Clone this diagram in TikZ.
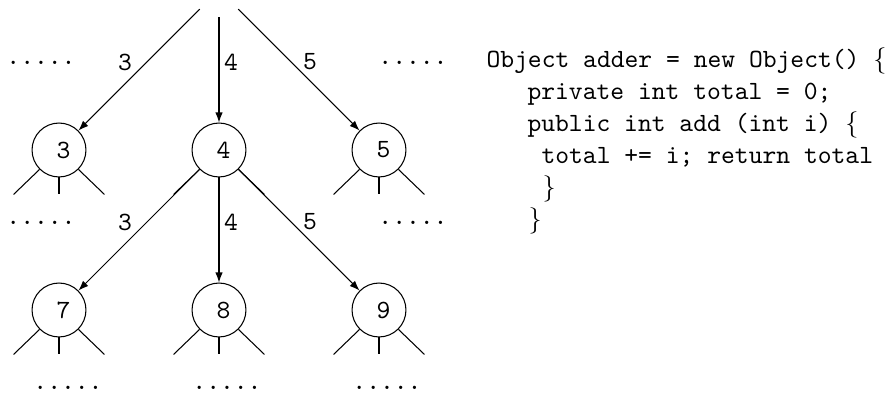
\documentclass[tikz,border=0pt]{standalone}
\usetikzlibrary{arrows.meta}
\tikzset{
  knot/.style={circle, draw, minimum size=20.5pt, inner sep=0pt, font=\ttfamily,
    execute at begin node=\hspace*{3.5pt}},
  lbl/.style={inner sep=0pt, font=\ttfamily},
  code/.style={inner sep=0pt, anchor=base west, font=\ttfamily},
}
\begin{document}
\begin{tikzpicture}[x=0.38pt, y=-0.38pt, >={Latex[length=3.8pt,width=2.8pt]}, line join=round]
  \useasboundingbox (0,0) rectangle (892,394);
  \coordinate (root) at (219,-10);
  % Knoten
  \node[knot] (n3) at (59,150) {3};
  \node[knot] (n4) at (219,150) {4};
  \node[knot] (n5) at (379,150) {5};
  \node[knot] (n7) at (59,310) {7};
  \node[knot] (n8) at (219,310) {8};
  \node[knot] (n9) at (379,310) {9};
  % Kanten
  \foreach \n in {3,4,5} \draw[->, shorten <=10.3pt] (root) -- (n\n);
  \foreach \n in {7,8,9} \draw[->] (n4) -- (n\n);
  \foreach \n in {3,4,5,7,8,9} {
    \draw (n\n.south west) -- ++(-26,25);
    \draw (n\n.south) -- ++(0,17);
    \draw (n\n.south east) -- ++(26,25);
  }
  % Beschriftungen
  \node[lbl] (e3) at (125,62) {3};
  \node[lbl] (e4) at (231,62) {4};
  \node[lbl] (e5) at (310,62) {5};
  \node[lbl] (f3) at (125,222) {3};
  \node[lbl] (f4) at (231,222) {4};
  \node[lbl] (f5) at (310,222) {5};
  \node[lbl] (d1) at (41,63) {.....};
  \node[lbl] (d2) at (413,63) {.....};
  \node[lbl] (d3) at (41,223) {.....};
  \node[lbl] (d4) at (413,223) {.....};
  \node[lbl] (b7) at (68,388) {.....};
  \node[lbl] (b8) at (227,388) {.....};
  \node[lbl] (b9) at (387,388) {.....};
  % Code
  \node[code] (c1) at (486,68) {Object adder = new Object() $\{$};
  \node[code] (c2) at (527,100) {private int total = 0;};
  \node[code] (c3) at (527,132) {public int add (int i) $\{$};
  \node[code] (c4) at (541,164) {total += i; return total};
  \node[code] (c5) at (542,196) {$\}$};
  \node[code] (c6) at (528,228) {$\}$};
\end{tikzpicture}
\end{document}
